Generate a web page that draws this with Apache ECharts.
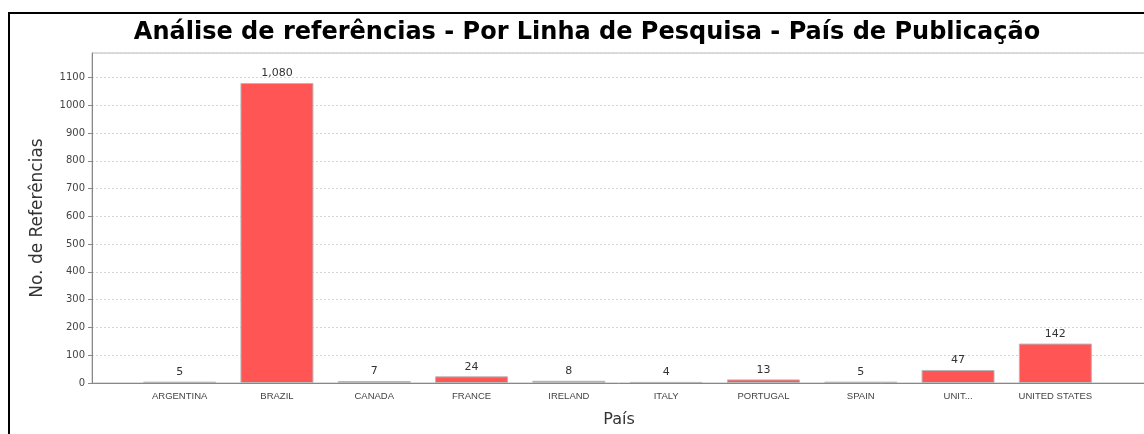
<!DOCTYPE html>
<html>
<head>
<meta charset="utf-8">
<script src="https://cdn.jsdelivr.net/npm/echarts@6/dist/echarts.min.js"></script>
<style>
  html, body { margin: 0; padding: 0; background: #fff; }
  #chart { width: 1144px; height: 434px; }
</style>
</head>
<body>
<div id="chart"></div>
<script>
// dados do grafico
var paises = ['ARGENTINA', 'BRAZIL', 'CANADA', 'FRANCE', 'IRELAND', 'ITALY', 'PORTUGAL', 'SPAIN', 'UNIT...', 'UNITED STATES'];
var referencias = [5, 1080, 7, 24, 8, 4, 13, 5, 47, 142];
var yMax = 1188;

var chart = echarts.init(document.getElementById('chart'), null, { renderer: 'canvas' });

var option = {
  animation: false,
  backgroundColor: '#fff',
  title: {
    text: 'Análise de referências - Por Linha de Pesquisa - País de Publicação',
    left: 582,
    textAlign: 'center',
    top: 16,
    textStyle: {
      fontFamily: 'DejaVu Sans',
      fontWeight: 'bold',
      fontSize: 24,
      color: '#000'
    }
  },
  graphic: [
    {
      type: 'rect',
      shape: { x: 9, y: 13, width: 1200, height: 500 },
      style: { fill: 'none', stroke: '#000', lineWidth: 2 },
      silent: true
    }
  ],
  grid: [
    // area do plot (linhas de grade e eixos)
    { left: 92, right: -2, top: 53, bottom: 51, outerBoundsMode: 'none', containLabel: false,
      show: true, borderColor: '#b8b8b8', borderWidth: 1 },
    // area das barras
    { left: 131, right: 40, top: 53, bottom: 51, outerBoundsMode: 'none', containLabel: false }
  ],
  xAxis: [
    {
      gridIndex: 0,
      type: 'category',
      data: paises,
      axisLine: { lineStyle: { color: '#888' } },
      axisTick: { show: false },
      axisLabel: { show: false },
      splitLine: { show: false },
      name: 'País',
      nameLocation: 'middle',
      nameGap: 29,
      nameTextStyle: { fontFamily: 'DejaVu Sans', fontSize: 16, color: '#333' }
    },
    {
      gridIndex: 1,
      type: 'category',
      data: paises,
      axisLine: { show: false },
      axisTick: { show: false },
      axisLabel: {
        interval: 0,
        margin: 8,
        fontFamily: 'Liberation Sans Narrow, Liberation Sans',
        fontSize: 9.5,
        color: '#444'
      }
    }
  ],
  yAxis: [
    {
      gridIndex: 0,
      type: 'value',
      min: 0,
      max: yMax,
      interval: 100,
      axisLine: { show: true, lineStyle: { color: '#888' } },
      axisTick: { show: true, length: 4, lineStyle: { color: '#888' } },
      axisLabel: {
        showMaxLabel: false,
        margin: 7,
        fontFamily: 'DejaVu Sans',
        fontSize: 10,
        color: '#444',
        formatter: function (v) { return String(v); }
      },
      splitLine: { lineStyle: { color: '#d4d4d4', type: [2, 2] } },
      name: 'No. de Referências',
      nameLocation: 'middle',
      nameGap: 46,
      nameTextStyle: { fontFamily: 'DejaVu Sans', fontSize: 17, color: '#333' }
    },
    {
      gridIndex: 1,
      type: 'value',
      min: 0,
      max: yMax,
      show: false,
      splitLine: { show: false }
    }
  ],
  series: [
    {
      type: 'bar',
      xAxisIndex: 1,
      yAxisIndex: 1,
      data: referencias,
      barWidth: 73,
      itemStyle: { color: '#FF5555', borderColor: '#b8b8b8', borderWidth: 1 },
      label: {
        show: true,
        position: 'top',
        distance: 4,
        fontFamily: 'DejaVu Sans',
        fontSize: 11,
        color: '#333',
        formatter: function (p) { return p.value.toLocaleString('en-US'); }
      }
    }
  ]
};

chart.setOption(option);
</script>
</body>
</html>
